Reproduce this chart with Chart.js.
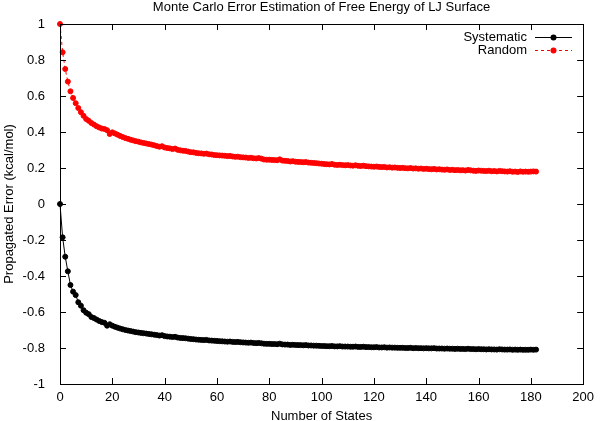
<!DOCTYPE html>
<html>
<head>
<meta charset="utf-8">
<script src="https://cdn.jsdelivr.net/npm/chart.js@4/dist/chart.umd.min.js"></script>
<style>
html,body{margin:0;padding:0;background:#fff;}
#wrap{width:600px;height:421px;position:relative;}
</style>
</head>
<body>
<div id="wrap"><canvas id="c" width="600" height="421"></canvas></div>
<script>
const chartTitle = "Monte Carlo Error Estimation of Free Energy of LJ Surface";
const xAxisTitle = "Number of States";
const yAxisTitle = "Propagated Error (kcal/mol)";
const seriesNames = ["Systematic", "Random"];
const xTicks = [0, 20, 40, 60, 80, 100, 120, 140, 160, 180, 200];
const yTicks = [-1, -0.8, -0.6, -0.4, -0.2, 0, 0.2, 0.4, 0.6, 0.8, 1];

const randomErr = [
  1.000, 0.843, 0.750, 0.680, 0.626, 0.589, 0.560, 0.533, 0.510, 0.490,
  0.472, 0.462, 0.450, 0.441, 0.432, 0.425, 0.419, 0.417, 0.410, 0.389,
  0.398, 0.392, 0.385, 0.378, 0.372, 0.366, 0.362, 0.357, 0.353, 0.349,
  0.346, 0.342, 0.339, 0.336, 0.333, 0.330, 0.326, 0.322, 0.318, 0.321,
  0.314, 0.311, 0.309, 0.305, 0.308, 0.301, 0.298, 0.296, 0.295, 0.291,
  0.288, 0.287, 0.284, 0.282, 0.281, 0.279, 0.280, 0.276, 0.275, 0.272,
  0.271, 0.270, 0.269, 0.268, 0.266, 0.267, 0.264, 0.262, 0.263, 0.260,
  0.259, 0.258, 0.256, 0.257, 0.254, 0.253, 0.255, 0.252, 0.247, 0.246,
  0.246, 0.245, 0.244, 0.243, 0.248, 0.241, 0.240, 0.239, 0.236, 0.238,
  0.235, 0.234, 0.233, 0.232, 0.233, 0.230, 0.229, 0.228, 0.227, 0.225,
  0.224, 0.222, 0.221, 0.220, 0.222, 0.218, 0.217, 0.218, 0.216, 0.215,
  0.216, 0.214, 0.213, 0.215, 0.212, 0.211, 0.213, 0.210, 0.209, 0.208,
  0.207, 0.208, 0.206, 0.205, 0.206, 0.203, 0.204, 0.202, 0.203, 0.201,
  0.200, 0.201, 0.199, 0.198, 0.200, 0.197, 0.198, 0.196, 0.197, 0.195,
  0.196, 0.194, 0.193, 0.195, 0.192, 0.193, 0.191, 0.190, 0.192, 0.189,
  0.190, 0.188, 0.189, 0.187, 0.188, 0.186, 0.189, 0.187, 0.185, 0.184,
  0.186, 0.185, 0.184, 0.183, 0.185, 0.182, 0.183, 0.181, 0.184, 0.182,
  0.181, 0.180, 0.182, 0.179, 0.180, 0.178, 0.181, 0.179, 0.180, 0.179,
  0.180, 0.181, 0.180
];

const systematicErr = [
  0.000, -0.185, -0.293, -0.374, -0.450, -0.487, -0.506, -0.546, -0.565, -0.590,
  -0.604, -0.612, -0.628, -0.634, -0.642, -0.650, -0.656, -0.660, -0.676, -0.668,
  -0.676, -0.682, -0.687, -0.692, -0.696, -0.700, -0.703, -0.706, -0.709, -0.712,
  -0.714, -0.716, -0.718, -0.720, -0.722, -0.724, -0.726, -0.728, -0.731, -0.729,
  -0.734, -0.736, -0.737, -0.739, -0.738, -0.742, -0.744, -0.745, -0.746, -0.748,
  -0.750, -0.751, -0.753, -0.754, -0.755, -0.756, -0.755, -0.758, -0.759, -0.760,
  -0.761, -0.762, -0.763, -0.764, -0.765, -0.764, -0.766, -0.767, -0.766, -0.768,
  -0.769, -0.770, -0.771, -0.770, -0.772, -0.773, -0.772, -0.774, -0.776, -0.777,
  -0.777, -0.778, -0.778, -0.779, -0.776, -0.780, -0.781, -0.781, -0.783, -0.782,
  -0.783, -0.784, -0.784, -0.785, -0.784, -0.786, -0.786, -0.787, -0.787, -0.788,
  -0.789, -0.789, -0.790, -0.790, -0.789, -0.791, -0.791, -0.790, -0.792, -0.792,
  -0.792, -0.793, -0.793, -0.792, -0.794, -0.794, -0.793, -0.795, -0.795, -0.796,
  -0.796, -0.795, -0.797, -0.797, -0.796, -0.798, -0.797, -0.798, -0.798, -0.799,
  -0.799, -0.799, -0.800, -0.800, -0.799, -0.801, -0.800, -0.801, -0.801, -0.802,
  -0.801, -0.802, -0.802, -0.801, -0.803, -0.803, -0.803, -0.804, -0.803, -0.804,
  -0.804, -0.805, -0.804, -0.805, -0.805, -0.806, -0.804, -0.806, -0.806, -0.807,
  -0.806, -0.807, -0.807, -0.808, -0.807, -0.808, -0.808, -0.809, -0.807, -0.808,
  -0.809, -0.809, -0.808, -0.810, -0.809, -0.810, -0.809, -0.810, -0.810, -0.810,
  -0.809, -0.810, -0.809
];

const states = systematicErr.map((_, i) => i);

const FONT = "'Liberation Sans', Arial, Helvetica, sans-serif";
const FSIZE = 13;

const gnuplotFrame = {
  id: 'gnuplotFrame',
  afterDraw(chart) {
    const ctx = chart.ctx;
    const a = chart.chartArea;
    const xs = chart.scales.x, ys = chart.scales.y;
    const tl = 6;
    ctx.save();
    ctx.strokeStyle = '#000';
    ctx.lineWidth = 1;
    ctx.beginPath();
    xTicks.forEach(v => {
      const px = Math.round(xs.getPixelForValue(v)) + 0.5;
      ctx.moveTo(px, a.bottom); ctx.lineTo(px, a.bottom - tl);
      ctx.moveTo(px, a.top); ctx.lineTo(px, a.top + tl);
    });
    yTicks.forEach(v => {
      const py = Math.round(ys.getPixelForValue(v)) + 0.5;
      ctx.moveTo(a.left, py); ctx.lineTo(a.left + tl, py);
      ctx.moveTo(a.right, py); ctx.lineTo(a.right - tl, py);
    });
    ctx.stroke();
    ctx.strokeRect(Math.round(a.left) + 0.5, Math.round(a.top) + 0.5,
                   Math.round(a.right - a.left), Math.round(a.bottom - a.top));

    ctx.fillStyle = '#000';
    ctx.font = FSIZE + 'px ' + FONT;
    ctx.textAlign = 'center';
    ctx.textBaseline = 'alphabetic';
    const cx = (a.left + a.right) / 2;
    ctx.fillText(chartTitle, cx, 11);
    ctx.fillText(xAxisTitle, cx, 420);
    ctx.save();
    ctx.translate(13, (a.top + a.bottom) / 2);
    ctx.rotate(-Math.PI / 2);
    ctx.fillText(yAxisTitle, 0, 0);
    ctx.restore();

    const ds = chart.data.datasets;
    const rows = [37, 50];
    ds.forEach((d, i) => {
      const y = rows[i];
      ctx.textAlign = 'right';
      ctx.textBaseline = 'middle';
      ctx.fillStyle = '#000';
      ctx.fillText(d.label, 527, y + 0.5);
      ctx.strokeStyle = d.borderColor;
      ctx.lineWidth = 1;
      ctx.setLineDash(d.borderDash || []);
      ctx.beginPath();
      ctx.moveTo(535, y + 0.5); ctx.lineTo(572, y + 0.5);
      ctx.stroke();
      ctx.setLineDash([]);
      ctx.fillStyle = d.pointBackgroundColor;
      ctx.beginPath();
      ctx.arc(553.5, y + 0.5, 3, 0, Math.PI * 2);
      ctx.fill();
    });
    ctx.restore();
  }
};

new Chart(document.getElementById('c'), {
  type: 'line',
  data: {
    datasets: [
      {
        label: seriesNames[0],
        data: states.map((s, i) => ({ x: s, y: systematicErr[i] })),
        borderColor: '#000000',
        backgroundColor: '#000000',
        pointBackgroundColor: '#000000',
        pointBorderColor: '#000000',
        borderWidth: 1,
        pointRadius: 2.5,
        pointBorderWidth: 1,
        tension: 0,
        clip: false
      },
      {
        label: seriesNames[1],
        data: states.map((s, i) => ({ x: s, y: randomErr[i] })),
        borderColor: '#ff0000',
        backgroundColor: '#ff0000',
        pointBackgroundColor: '#ff0000',
        pointBorderColor: '#ff0000',
        borderWidth: 1,
        borderDash: [3, 3],
        pointRadius: 2.5,
        pointBorderWidth: 1,
        tension: 0,
        clip: false
      }
    ]
  },
  options: {
    responsive: false,
    animation: false,
    devicePixelRatio: 1,
    layout: { padding: { top: 24, right: 12, left: 0, bottom: 0 } },
    plugins: {
      legend: { display: false },
      title: { display: false },
      tooltip: { enabled: false }
    },
    scales: {
      x: {
        type: 'linear',
        min: 0, max: 200,
        afterBuildTicks(scale) { scale.ticks = xTicks.map(v => ({ value: v })); },
        afterFit(scale) { scale.height = 37; },
        grid: { display: false, drawTicks: false },
        border: { display: false },
        ticks: {
          color: '#000',
          padding: 6,
          maxRotation: 0,
          font: { family: FONT, size: FSIZE },
          callback: v => String(v)
        }
      },
      y: {
        type: 'linear',
        min: -1, max: 1,
        afterBuildTicks(scale) { scale.ticks = yTicks.map(v => ({ value: v })); },
        afterFit(scale) { scale.width = 60; },
        grid: { display: false, drawTicks: false },
        border: { display: false },
        ticks: {
          color: '#000',
          padding: 15,
          font: { family: FONT, size: FSIZE },
          callback: v => String(Number(Number(v).toFixed(1)))
        }
      }
    }
  },
  plugins: [gnuplotFrame]
});
</script>
</body>
</html>
